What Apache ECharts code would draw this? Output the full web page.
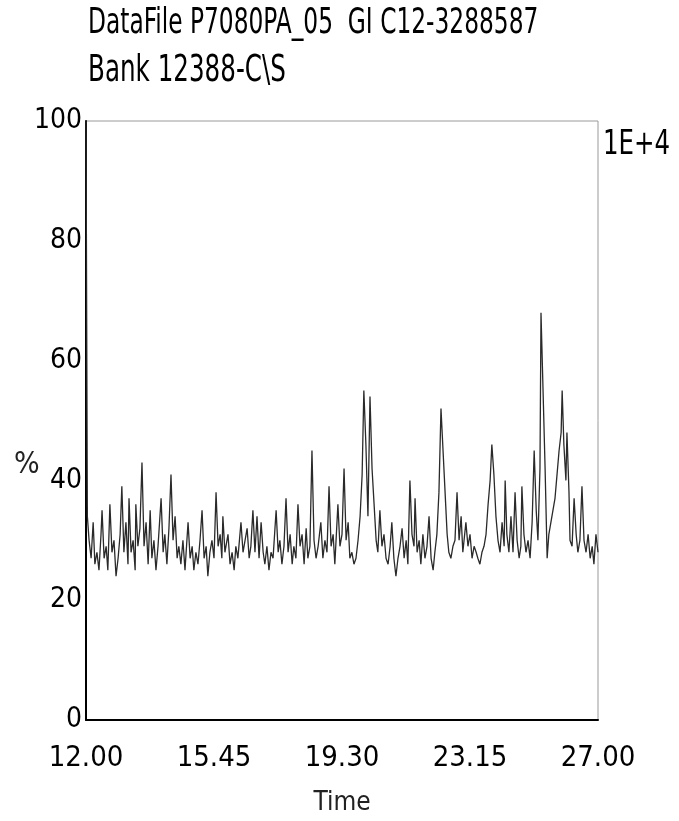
<!DOCTYPE html>
<html>
<head>
<meta charset="utf-8">
<script src="https://cdn.jsdelivr.net/npm/echarts@6/dist/echarts.min.js"></script>
<style>
html,body{margin:0;padding:0;background:#fff;}
#chart{width:679px;height:821px;}
</style>
</head>
<body>
<div id="chart"></div>
<script>
// ---- data ----
const titleLine1 = "DataFile P7080PA_05  GI C12-3288587";
const titleLine2 = "Bank 12388-C\\S";
const scaleLabel = "1E+4";
const yAxisName = "%";
const xAxisName = "Time";
const xTickValues = [12, 15.75, 19.5, 23.25, 27];
const xTickLabels = ["12.00", "15.45", "19.30", "23.15", "27.00"];
const yTicks = [0, 20, 40, 60, 80, 100];

const times = [
12.00,12.04,12.09,12.15,12.21,12.26,12.32,12.38,12.44,12.47,12.53,12.59,12.64,12.70,12.76,12.82,12.88,12.94,13.00,13.05,
13.11,13.17,13.23,13.26,13.32,13.38,13.44,13.46,13.52,13.58,13.64,13.70,13.76,13.82,13.88,13.93,13.99,14.05,14.11,14.20,
14.26,14.31,14.37,14.43,14.49,14.55,14.61,14.67,14.72,14.78,14.84,14.90,14.99,15.05,15.11,15.16,15.22,15.28,15.34,15.40,
15.46,15.52,15.57,15.63,15.69,15.75,15.81,15.87,15.93,15.98,16.01,16.07,16.16,16.22,16.28,16.34,16.39,16.45,16.54,16.60,
16.66,16.72,16.78,16.83,16.89,16.95,17.01,17.07,17.13,17.19,17.24,17.30,17.36,17.42,17.48,17.57,17.63,17.68,17.74,17.80,
17.86,17.92,17.98,18.04,18.09,18.15,18.21,18.27,18.33,18.39,18.45,18.50,18.56,18.62,18.68,18.74,18.80,18.88,18.94,19.00,
19.06,19.12,19.18,19.24,19.29,19.38,19.44,19.50,19.56,19.62,19.68,19.73,19.79,19.85,19.91,19.97,20.03,20.09,20.14,20.20,
20.26,20.32,20.38,20.44,20.50,20.55,20.61,20.67,20.73,20.79,20.85,20.91,20.96,21.02,21.08,21.14,21.20,21.26,21.32,21.38,
21.43,21.49,21.55,21.61,21.64,21.70,21.76,21.81,21.87,21.93,21.99,22.05,22.11,22.17,22.22,22.28,22.34,22.40,22.46,22.52,
22.58,22.63,22.69,22.75,22.81,22.87,22.93,22.99,23.04,23.13,23.19,23.25,23.31,23.37,23.43,23.48,23.54,23.60,23.66,23.72,
23.78,23.84,23.89,23.95,24.01,24.07,24.13,24.19,24.25,24.28,24.33,24.39,24.45,24.51,24.57,24.63,24.69,24.74,24.77,24.83,
24.89,24.95,25.01,25.07,25.13,25.19,25.24,25.30,25.33,25.39,25.45,25.51,25.56,25.62,25.68,25.74,25.80,25.86,25.92,25.95,
26.00,26.06,26.09,26.15,26.18,26.24,26.30,26.36,26.41,26.47,26.53,26.59,26.65,26.71,26.77,26.83,26.88,26.94,27.00
];
const intensity = [
100,34,30,27,33,26,28,25,31,35,27,29,25,36,28,30,24,27,31,39,
28,33,26,37,28,30,25,36,29,32,43,29,33,26,35,27,30,25,29,37,
28,31,26,32,41,30,34,27,29,26,30,25,33,27,29,25,28,26,30,35,
27,29,24,28,30,27,38,29,31,27,34,28,31,26,28,25,29,27,33,28,
30,32,27,29,35,28,34,27,33,28,26,29,25,28,27,35,28,30,26,29,
37,28,31,26,29,27,36,29,31,26,32,27,29,45,30,27,29,33,27,30,
28,39,29,31,26,36,29,31,42,30,33,27,28,26,27,30,34,41,55,46,
34,54,42,36,30,28,35,29,31,27,26,29,33,27,24,27,29,32,27,30,
26,40,31,29,37,28,30,26,31,27,29,34,27,25,28,31,38,52,45,38,
31,28,27,29,30,38,30,34,28,33,29,31,27,29,28,27,26,28,29,31,
36,40,46,41,34,30,28,33,29,40,31,28,34,28,38,30,27,29,39,31,
28,30,27,33,45,35,30,42,68,55,42,27,31,33,35,37,41,45,48,55,
46,40,48,38,30,29,37,31,28,30,39,30,28,31,27,29,26,31,28
];

const seriesData = times.map((t, i) => [t, intensity[i]]);

const NARROW = '"Liberation Sans Narrow", "DejaVu Sans Condensed", "Arial Narrow", sans-serif';

const chart = echarts.init(document.getElementById('chart'), null, {renderer: 'canvas'});
chart.setOption({
  animation: false,
  backgroundColor: '#ffffff',
  grid: {
    left: 86, right: 81, top: 121, bottom: 101,
    show: true, borderColor: '#9a9a9a', borderWidth: 1, backgroundColor: 'transparent'
  },
  xAxis: {
    type: 'value', min: 12, max: 27,
    name: xAxisName, nameLocation: 'middle', nameGap: 70,
    nameTextStyle: {fontFamily: NARROW, fontSize: 26, color: '#222'},
    axisLine: {show: true, lineStyle: {color: '#000', width: 2}},
    axisTick: {show: false},
    splitLine: {show: false},
    axisLabel: {
      customValues: xTickValues,
      fontFamily: NARROW, fontSize: 29, color: '#000', margin: 24,
      formatter: (v) => {
        const i = xTickValues.findIndex(x => Math.abs(x - v) < 1e-6);
        return i >= 0 ? xTickLabels[i] : '';
      }
    }
  },
  yAxis: {
    type: 'value', min: 0, max: 100, interval: 20,
    axisLine: {show: true, lineStyle: {color: '#000', width: 2}},
    axisTick: {show: false},
    splitLine: {show: false},
    axisLabel: {
      fontFamily: NARROW, fontSize: 28, color: '#000', margin: 4,
      formatter: (v) => yTicks.includes(v) ? String(v) : ''
    }
  },
  series: [{
    type: 'line',
    data: seriesData,
    showSymbol: false,
    symbol: 'none',
    lineStyle: {color: '#2a2a2a', width: 1.3},
    z: 1
  }],
  graphic: [
    {type: 'text', left: 88, top: 6, scaleX: 0.72, style: {text: titleLine1, font: '36px ' + NARROW, fill: '#000'}},
    {type: 'text', left: 88, top: 52, scaleX: 0.72, style: {text: titleLine2, font: '38px ' + NARROW, fill: '#000'}},
    {type: 'text', left: 603, top: 128, scaleX: 0.8, style: {text: scaleLabel, font: '34px ' + NARROW, fill: '#000'}},
    {type: 'text', left: 14, top: 450, style: {text: yAxisName, font: '30px ' + NARROW, fill: '#222'}}
  ]
});
</script>
</body>
</html>
